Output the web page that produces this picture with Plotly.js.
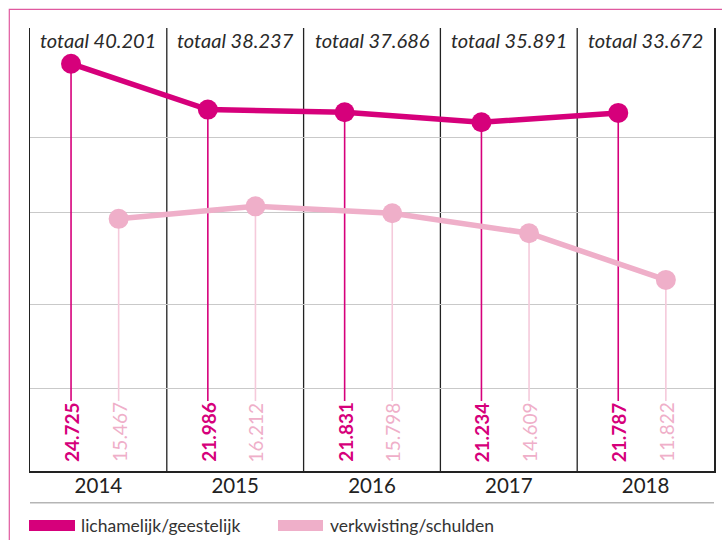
<!DOCTYPE html>
<html>
<head>
<meta charset="utf-8">
<script src="https://cdn.plot.ly/plotly-3.0.1.min.js"></script>
<style>html,body{margin:0;padding:0;background:#fff;}#chart{width:722px;height:540px;}</style>
</head>
<body>
<div id="chart"></div>
<script>
// ---- data ----
const years = ['2014', '2015', '2016', '2017', '2018'];
const totals = [40201, 38237, 37686, 35891, 33672];
const lichamelijk = [24725, 21986, 21831, 21234, 21787];
const verkwisting = [15467, 16212, 15798, 14609, 11822];
const seriesNames = ['lichamelijk/geestelijk', 'verkwisting/schulden'];

// ---- style / layout constants ----
const W = 722, H = 540;
const M = {l: 30, r: 8, t: 28, b: 69};
const PW = W - M.l - M.r, PH = H - M.t - M.b;
const YR = [418, 26856];
const DARK = '#d6007b', LIGHT = '#efafc9', LIGHT_DROP = '#f5cadb';
const FONT = 'Lato, "Open Sans", sans-serif';
const offsets = [-0.2, 0.148];
const colors = [DARK, LIGHT];
const dropColors = [DARK, LIGHT_DROP];

const px2x = px => (px - M.l) / PW;            // paper x
const px2y = py => (M.t + PH - py) / PH;       // paper y
const valAtPx = py => YR[1] - (py - M.t) / PH * (YR[1] - YR[0]);

const fmt = v => Math.floor(v / 1000) + '.' + String(v % 1000).padStart(3, '0');

const series = [lichamelijk, verkwisting];
const xIdx = years.map((_, i) => i);
const dropBase = valAtPx(401);
const labelBase = valAtPx(464);

const traces = [];
series.forEach((vals, s) => {
  const dx = [], dy = [];
  vals.forEach((v, i) => { dx.push(i + offsets[s], i + offsets[s], null); dy.push(v, dropBase, null); });
  traces.push({x: dx, y: dy, type: 'scatter', mode: 'lines', line: {color: dropColors[s], width: 1.6},
    hoverinfo: 'skip', showlegend: false});
});
series.forEach((vals, s) => {
  traces.push({x: xIdx.map(i => i + offsets[s]), y: vals, type: 'scatter', mode: 'lines+markers',
    name: seriesNames[s], line: {color: colors[s], width: 5.5}, marker: {color: colors[s], size: 20},
    showlegend: false});
});

const annotations = [];
// value labels
series.forEach((vals, s) => {
  vals.forEach((v, i) => {
    annotations.push({x: i + offsets[s], y: labelBase, xref: 'x', yref: 'y', text: fmt(v), textangle: -90,
      showarrow: false, xanchor: 'center', yanchor: 'bottom',
      font: {family: FONT, size: 19, color: s === 0 ? DARK : LIGHT, weight: s === 0 ? 'bold' : 'normal'}});
  });
});
// totaal labels
totals.forEach((t, i) => {
  annotations.push({x: i, y: px2y(40), xref: 'x', yref: 'paper', text: 'totaal ' + fmt(t),
    showarrow: false, xanchor: 'center', yanchor: 'middle',
    font: {family: FONT, size: 20, color: '#2a2a2a', style: 'italic'}});
});
// legend
const legendPos = [{r0: 29, r1: 75, t: 79}, {r0: 278, r1: 323, t: 328}];
const shapes = [];
seriesNames.forEach((n, s) => {
  shapes.push({type: 'rect', xref: 'paper', yref: 'paper', x0: px2x(legendPos[s].r0), x1: px2x(legendPos[s].r1),
    y0: px2y(520), y1: px2y(531), fillcolor: colors[s], line: {width: 0}});
  annotations.push({x: px2x(legendPos[s].t), y: px2y(525), xref: 'paper', yref: 'paper', text: n,
    showarrow: false, xanchor: 'left', yanchor: 'middle', font: {family: FONT, size: 17.5, color: '#333'}});
});
// interior cell boundaries
for (let i = 0; i < years.length - 1; i++) {
  shapes.push({type: 'line', xref: 'x', yref: 'paper', x0: i + 0.5, x1: i + 0.5, y0: 0, y1: 1,
    line: {color: '#222', width: 1.3}, layer: 'below'});
}
// grey rule below years
shapes.push({type: 'line', xref: 'paper', yref: 'paper', x0: 0, x1: 1, y0: px2y(502.7), y1: px2y(502.7),
  line: {color: '#b5b5b5', width: 1.5}});
// pink frame
shapes.push({type: 'rect', xref: 'paper', yref: 'paper', x0: px2x(9.3), x1: px2x(740), y0: px2y(560), y1: px2y(9.3),
  line: {color: '#e0599f', width: 1.2}, fillcolor: 'rgba(0,0,0,0)'});

const layout = {
  width: W, height: H, margin: M, paper_bgcolor: '#fff', plot_bgcolor: '#fff',
  font: {family: FONT},
  xaxis: {range: [-0.5, 4.5], tickvals: xIdx, ticktext: years, showgrid: false, zeroline: false,
    showline: true, linecolor: '#222', linewidth: 1.5, ticks: '', ticklabelstandoff: -4,
    tickfont: {family: FONT, size: 20.5, color: '#222'}, fixedrange: true},
  yaxis: {range: YR, tickvals: [5350, 10370, 15860, 20330], showticklabels: false, ticks: '',
    showgrid: true, gridcolor: '#c9c9c9', gridwidth: 1.3, zeroline: false,
    showline: true, mirror: true, linecolor: '#222', linewidth: 1.5, fixedrange: true},
  showlegend: false, shapes: shapes, annotations: annotations
};

Plotly.newPlot('chart', traces, layout, {displayModeBar: false, staticPlot: true});
</script>
</body>
</html>
